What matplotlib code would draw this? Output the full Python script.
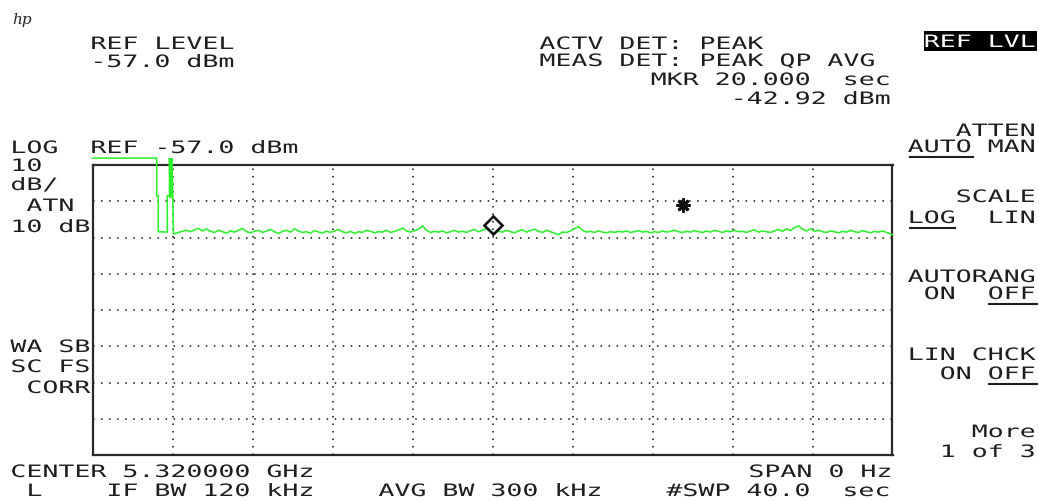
import numpy as np
import matplotlib
matplotlib.use("Agg")
import matplotlib.pyplot as plt
from matplotlib import patheffects
from matplotlib.transforms import Affine2D
from matplotlib.patches import Rectangle
from matplotlib.lines import Line2D

# ---------------- data ----------------
ref_level = -57.0          # dBm (top of graticule)
db_per_div = 10
n_ydiv = 8
sweep_time = 40.0          # seconds (zero span)
n_xdiv = 10

# leading part of the trace (above reference, drop, spike)
head_t = [0.0, 3.21, 3.21, 3.29, 3.29, 3.74, 3.74, 3.85, 3.85, 3.88, 3.91, 3.94, 3.97, 4.05]
head_db = [-55.1, -55.1, -65.5, -65.5, -75.4, -75.5, -65.5, -65.5, -55.1, -66.0, -55.1,
           -66.0, -55.1, -75.9]

# noise floor, sampled every 0.2 s from 4.1 s to 39.9 s, then the final point
noise_start = 4.1
noise_step = 0.2
noise_db = [
    -76.0, -75.6, -75.3, -75.0, -75.4, -74.9, -74.5, -75.2, -74.6, -75.3,
    -75.6, -75.0, -75.4, -75.8, -75.2, -75.5, -75.0, -74.5, -75.4, -75.7,
    -75.3, -75.0, -75.6, -75.2, -74.8, -75.4, -75.9, -75.3, -75.0, -75.5,
    -74.6, -75.2, -75.6, -75.4, -75.8, -75.1, -75.5, -75.7, -75.3, -75.6,
    -75.2, -74.8, -75.4, -75.7, -75.3, -75.9, -75.4, -75.6, -75.0, -75.3,
    -75.7, -75.4, -75.5, -75.0, -75.6, -75.3, -74.9, -74.4, -75.2, -75.5,
    -75.1, -74.7, -73.8, -75.0, -75.6, -75.3, -75.5, -75.2, -75.7, -75.4,
    -75.0, -75.5, -75.3, -75.6, -75.1, -74.8, -75.4, -75.0, -74.6, -75.2,
    -75.8, -75.3, -75.5, -75.0, -75.4, -75.7, -75.2, -74.9, -75.5, -75.1,
    -74.7, -75.3, -75.6, -75.0, -75.4, -75.8, -76.2, -75.5, -75.6, -75.2,
    -74.6, -74.0, -75.0, -75.5, -75.3, -75.6, -75.2, -75.5, -75.7, -75.4,
    -75.6, -75.3, -75.5, -75.2, -75.6, -75.4, -75.1, -75.5, -75.3, -75.7,
    -75.4, -75.6, -75.2, -75.5, -75.3, -75.0, -75.4, -75.6, -75.3, -75.5,
    -75.1, -75.4, -75.6, -75.2, -75.5, -75.0, -75.3, -75.6, -75.2, -75.4,
    -75.0, -75.4, -75.3, -75.6, -75.2, -74.9, -75.5, -75.2, -75.4, -75.6,
    -75.2, -74.8, -75.3, -74.6, -75.1, -74.3, -73.8, -74.7, -75.2, -74.6,
    -75.3, -75.0, -75.4, -75.6, -75.2, -75.4, -75.7, -75.3, -75.5, -75.0,
    -75.4, -75.6, -75.1, -75.4, -75.7, -75.3, -75.5, -75.2, -75.6, -76.0,
]
end_t = 40.0
end_db = -76.2

marker_t, marker_db = 20.0, -73.55     # diamond marker
star_t, star_db = 29.5, -68.0          # asterisk

# ---------------- figure ----------------
W, H = 1039, 502
plt.rcParams["lines.scale_dashes"] = False
fig = plt.figure(figsize=(W / 100, H / 100), dpi=100)
fig.patch.set_facecolor("white")

X0, X1, Y0, Y1 = 92.5, 892.5, 166.0, 456.0
ax = fig.add_axes([X0 / W, (H - Y1) / H, (X1 - X0) / W, (Y1 - Y0) / H])
ax.set_xlim(0, sweep_time)
ax.set_ylim(ref_level - n_ydiv * db_per_div, ref_level)
ax.set_xticks([])
ax.set_yticks([])
for sp in ax.spines.values():
    sp.set_linewidth(1.6)
    sp.set_color("#2a2a2a")

# dotted graticule
for t in np.arange(1, n_xdiv) * sweep_time / n_xdiv:
    ax.axvline(t, color="#222222", lw=1.2, linestyle=(0, (1.1, 4.3)), zorder=1)
for k in range(1, n_ydiv):
    ax.axhline(ref_level - k * db_per_div, color="#222222", lw=1.2,
               linestyle=(0, (1.1, 4.7)), zorder=1)

# trace
noise_t = noise_start + noise_step * np.arange(len(noise_db))
trace_t = np.concatenate([head_t, noise_t, [end_t]])
trace_db = np.concatenate([head_db, noise_db, [end_db]])
ax.plot(trace_t, trace_db, color="#2cf02c", lw=1.15, clip_on=False, zorder=3,
        solid_joinstyle="miter")

# markers
ax.plot([marker_t], [marker_db], marker="D", ms=9.5, mfc="none", mec="#111111",
        mew=1.9, zorder=4)
ax.plot([star_t], [star_db], marker=(8, 2, 0), ms=10, mec="#111111",
        mew=2.0, zorder=4)

# ---------------- text ----------------
pix = Affine2D().scale(1 / W, -1 / H).translate(0, 1) + fig.transFigure
FS = 12.3
C = 16.0
SX = C / (0.60205 * FS * 100 / 72)
LB = 2.3


class HStretch(patheffects.AbstractPathEffect):
    def __init__(self, sx):
        super().__init__()
        self.sx = sx

    def draw_path(self, renderer, gc, tpath, affine, rgbFace=None):
        renderer.draw_path(gc, tpath, Affine2D().scale(self.sx, 1.0) + affine, rgbFace)


def txt(x, y, s, color="#1e1e1e"):
    fig.text(x - LB, y, s, transform=pix, fontsize=FS, family="DejaVu Sans Mono",
             color=color, ha="left", va="baseline", path_effects=[HStretch(SX)])


def uline(x0, x1, y):
    fig.add_artist(Line2D([x0, x1], [y, y], transform=pix, color="#1e1e1e", lw=1.5))


# hp logo
fig.text(12, 24, "hp", transform=pix, fontsize=11, family="DejaVu Serif",
         style="italic", color="#222222", ha="left", va="baseline")

# top-left
txt(92.7, 50, "REF LEVEL")
txt(92.7, 68, "-57.0 dBm")

# top-middle
txt(541.7, 50, "ACTV DET: PEAK")
txt(541.7, 67, "MEAS DET: PEAK QP AVG")
txt(653.0, 86, "MKR 20.000  sec")
txt(733.0, 105, "-42.92 dBm")

# softkey column
fig.add_artist(Rectangle((924, 32), 113, 20, transform=pix, facecolor="black",
                         edgecolor="none"))
txt(926, 48, "REF LVL", color="white")
txt(910, 137, "   ATTEN")
txt(910, 153, "AUTO MAN")
uline(910, 973, 157.5)
txt(910, 203, "   SCALE")
txt(910, 224, "LOG  LIN")
uline(910, 955, 228.5)
txt(910, 283, "AUTORANG")
txt(910, 300, " ON  OFF")
uline(989, 1037, 304.5)
txt(910, 361, "LIN CHCK")
txt(910, 380, "  ON OFF")
uline(989, 1037, 384.5)
txt(910, 438, "    More")
txt(910, 458, "  1 of 3")

# left annotations
txt(12.7, 154, "LOG")
txt(92.7, 154, "REF -57.0 dBm")
txt(12.7, 172, "10")
txt(12.7, 191, "dB/")
txt(12.7, 212, " ATN")
txt(12.7, 233, "10 dB")
txt(12.7, 353, "WA SB")
txt(12.7, 373, "SC FS")
txt(12.7, 394, " CORR")

# bottom
txt(12.7, 478, "CENTER 5.320000 GHz")
txt(750.7, 478, "SPAN 0 Hz")
txt(12.7, 497, " L    IF BW 120 kHz")
txt(380.7, 497, "AVG BW 300 kHz")
txt(668.7, 497, "#SWP 40.0  sec")

fig.savefig("out.png", dpi=100)
